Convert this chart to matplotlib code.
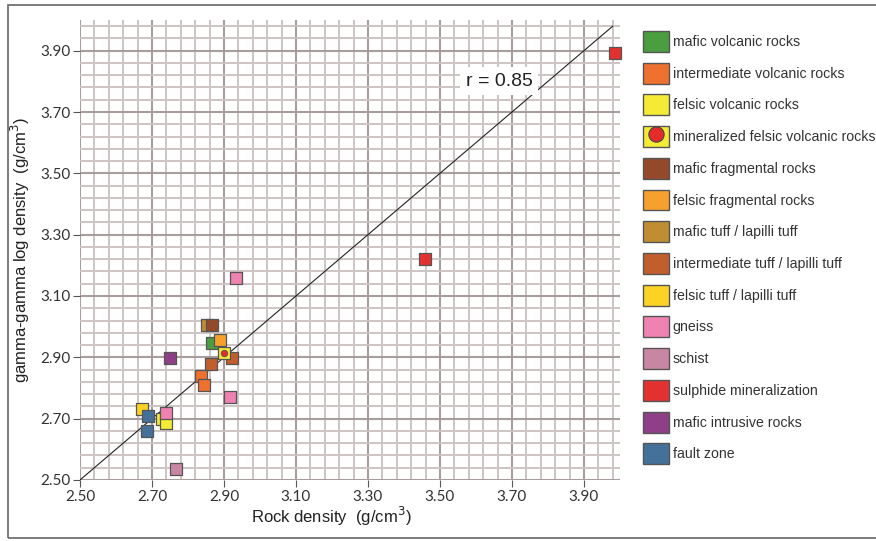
import numpy as np
import matplotlib
matplotlib.use('Agg')
import matplotlib.pyplot as plt
from matplotlib.patches import Patch, Rectangle
from matplotlib.lines import Line2D
from matplotlib.legend_handler import HandlerTuple

plt.rcParams['font.family'] = ['Liberation Sans', 'DejaVu Sans']

# rock types, legend order
categories = ['mafic volcanic rocks', 'intermediate volcanic rocks', 'felsic volcanic rocks',
              'mineralized felsic volcanic rocks', 'mafic fragmental rocks', 'felsic fragmental rocks',
              'mafic tuff / lapilli tuff', 'intermediate tuff / lapilli tuff', 'felsic tuff / lapilli tuff',
              'gneiss', 'schist', 'sulphide mineralization', 'mafic intrusive rocks', 'fault zone']
colors = ['#4a9e3f', '#ee7130', '#f5ea35', '#f5ea35', '#94492a', '#f6a12e', '#c08d32',
          '#c25e2b', '#fcd224', '#ee82b0', '#c986a2', '#e3312f', '#8e3f88', '#44719a']

# rock density (x) and gamma-gamma log density (y), g/cm3
rock_density = {
    'mafic volcanic rocks': [2.868],
    'intermediate volcanic rocks': [2.835, 2.845],
    'felsic volcanic rocks': [2.727, 2.739],
    'mineralized felsic volcanic rocks': [2.899],
    'mafic fragmental rocks': [2.868],
    'felsic fragmental rocks': [2.888],
    'mafic tuff / lapilli tuff': [2.853],
    'intermediate tuff / lapilli tuff': [2.863, 2.921],
    'felsic tuff / lapilli tuff': [2.671],
    'gneiss': [2.933, 2.916, 2.739],
    'schist': [2.768],
    'sulphide mineralization': [3.458, 3.987],
    'mafic intrusive rocks': [2.749],
    'fault zone': [2.689, 2.685],
}
log_density = {
    'mafic volcanic rocks': [2.948],
    'intermediate volcanic rocks': [2.840, 2.810],
    'felsic volcanic rocks': [2.698, 2.687],
    'mineralized felsic volcanic rocks': [2.915],
    'mafic fragmental rocks': [3.007],
    'felsic fragmental rocks': [2.957],
    'mafic tuff / lapilli tuff': [3.007],
    'intermediate tuff / lapilli tuff': [2.877, 2.898],
    'felsic tuff / lapilli tuff': [2.730],
    'gneiss': [3.160, 2.769, 2.719],
    'schist': [2.537],
    'sulphide mineralization': [3.221, 3.891],
    'mafic intrusive rocks': [2.898],
    'fault zone': [2.709, 2.659],
}
# drawing order (later on top)
draw_order = ['mafic tuff / lapilli tuff', 'mafic fragmental rocks', 'mafic volcanic rocks',
              'felsic fragmental rocks', 'intermediate tuff / lapilli tuff',
              'mineralized felsic volcanic rocks', 'intermediate volcanic rocks',
              'felsic tuff / lapilli tuff', 'felsic volcanic rocks', 'gneiss', 'schist',
              'sulphide mineralization', 'mafic intrusive rocks', 'fault zone']

fit_x = [2.50, 3.98]
fit_y = [2.50, 3.98]
r_text = 'r = 0.85'
major_ticks = np.arange(2.50, 3.91, 0.20)
minor_ticks = np.arange(2.50, 3.99, 0.04)

fig = plt.figure(figsize=(8.76, 5.41), dpi=100)
ax = fig.add_axes([0.0913, 0.1128, 0.6164, 0.8502])

ax.set_xlim(2.5, 4.0)
ax.set_ylim(2.5, 4.0)
ax.set_xticks(major_ticks)
ax.set_yticks(major_ticks)
ax.set_xticks(minor_ticks, minor=True)
ax.set_yticks(minor_ticks, minor=True)
ax.set_xticklabels(['%.2f' % t for t in major_ticks])
ax.set_yticklabels(['%.2f' % t for t in major_ticks])
ax.grid(which='minor', color='#cdc5c3', linewidth=1.4)
ax.grid(which='major', color='#a79e9d', linewidth=1.5)
ax.set_axisbelow(True)
for s in ax.spines.values():
    s.set_visible(False)
ax.tick_params(which='minor', length=0)
ax.tick_params(which='major', length=5, width=0.8, color='#555555', labelsize=11,
               labelcolor='#333333', pad=2)
for lab in ax.get_xticklabels() + ax.get_yticklabels():
    lab.set_family(['Lato', 'DejaVu Sans'])

ax.plot(fit_x, fit_y, color='#222222', linewidth=0.8, zorder=2)

ec = '#555555'
for i, name in enumerate(draw_order):
    c = colors[categories.index(name)]
    ax.scatter(rock_density[name], log_density[name], marker='s', s=70, c=c,
               edgecolors=ec, linewidths=0.9, zorder=3 + i, clip_on=False)
    if name == 'mineralized felsic volcanic rocks':
        ax.scatter(rock_density[name], log_density[name], marker='o', s=22, c='#e32b2b',
                   edgecolors='#555555', linewidths=0.6, zorder=3 + i)

ax.text(3.665, 3.80, r_text, fontsize=14, color='#222222', ha='center', va='center',
        bbox=dict(facecolor='white', edgecolor='none', pad=4), zorder=20)

ax.set_xlabel('Rock density  (g/cm$^3$)', fontsize=12, color='#222222', labelpad=2)
ax.xaxis.set_label_coords(0.465, -0.055)
ax.set_ylabel('gamma-gamma log density  (g/cm$^3$)', fontsize=12, color='#222222', labelpad=6)

handles = []
for name, c in zip(categories, colors):
    p = Patch(facecolor=c, edgecolor='#555555', linewidth=1.0)
    if name == 'mineralized felsic volcanic rocks':
        dot = Line2D([], [], marker='o', linestyle='none', markersize=11,
                     markerfacecolor='#e32b2b', markeredgecolor='#444444', markeredgewidth=0.8)
        handles.append((p, dot))
    else:
        handles.append(p)

fig.legend(handles, categories, loc='upper left', bbox_to_anchor=(0.734, 0.943),
           frameon=False, fontsize=10.2, handlelength=1.85, handleheight=1.9,
           labelspacing=0.76, handletextpad=0.25, borderpad=0, borderaxespad=0,
           labelcolor='#333333', handler_map={tuple: HandlerTuple(ndivide=1)})

fig.add_artist(Rectangle((8 / 876, 3 / 541), 1.1, 533 / 541, transform=fig.transFigure,
                         fill=False, edgecolor='#666666', linewidth=1.2))

fig.savefig('out.png', dpi=100)
